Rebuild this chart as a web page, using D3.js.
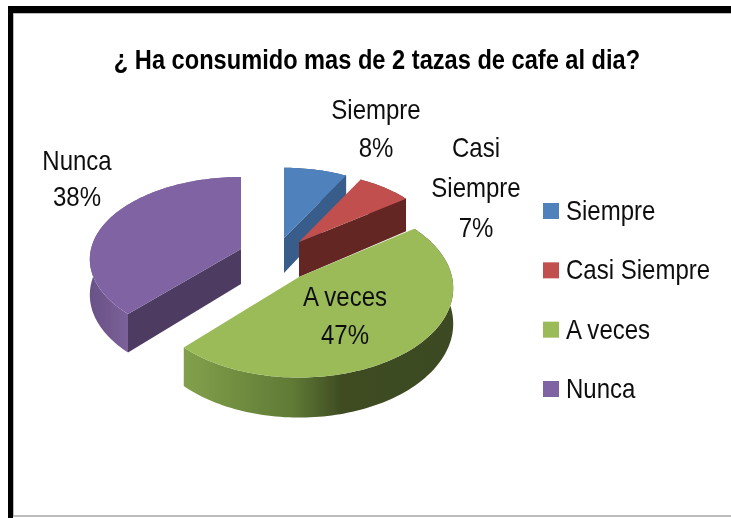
<!DOCTYPE html>
<html>
<head>
<meta charset="utf-8">
<script src="https://cdn.jsdelivr.net/npm/d3@7"></script>
<style>
html, body { margin: 0; padding: 0; background: #fff; }
svg { display: block; }
text { font-family: "Liberation Sans", sans-serif; fill: #111; }
</style>
</head>
<body>
<div id="contenedor"></div>
<script>
// datos
const titulo = "¿ Ha consumido mas de 2 tazas de cafe al dia?"
const categorias = ["Siempre", "Casi Siempre", "A veces", "Nunca"]
const valores = [8, 7, 47, 38]

const colores = ["#4f81bd", "#c0504d", "#9bbb59", "#8064a2"]
const coloresPared = ["#385d8a", "#632523", "#46562a", "#4d3b62"]

const ancho = 731
const alto = 518

// centro de cada porcion (cada una esta separada del resto) y sus radios
const centros = [
  { x: 284, y: 238, rx: 143, ry: 79 },
  { x: 299, y: 242, rx: 142, ry: 79 },
  { x: 299, y: 277, rx: 153, ry: 88 },
  { x: 241, y: 249, rx: 150, ry: 81 }
]
const perspectiva = 0.125
const grosor = 35
const estrechar = 0.89  // la fuente del original es mas estrecha

// etiquetas sobre el grafico: una linea por fila
const etiquetas = [
  { x: 376, y: [110, 148], t: ["Siempre", "8%"] },
  { x: 476, y: [148, 188, 228], t: ["Casi", "Siempre", "7%"] },
  { x: 345, y: [297, 335], t: ["A veces", "47%"] },
  { x: 77, y: [161, 197], t: ["Nunca", "38%"] }
]

const svg = d3.select("#contenedor").append("svg")
  .attr("width", ancho)
  .attr("height", alto)

const defs = svg.append("defs")

defs.append("filter").attr("id", "suave")
  .attr("filterUnits", "userSpaceOnUse")
  .attr("x", 0).attr("y", 0).attr("width", ancho).attr("height", alto)
  .append("feGaussianBlur").attr("stdDeviation", 0.45)

function gradiente(id, x1, x2, paradas) {
  const g = defs.append("linearGradient")
    .attr("id", id)
    .attr("gradientUnits", "userSpaceOnUse")
    .attr("x1", x1).attr("x2", x2).attr("y1", 0).attr("y2", 0)
  paradas.forEach(p => g.append("stop").attr("offset", p[0]).attr("stop-color", p[1]))
}
gradiente("bordeVerde", 185, 455, [[0, "#82a04b"], [0.4, "#5f7a35"], [0.58, "#3f4c22"], [1, "#3d4a20"]])
gradiente("bordePurpura", 91, 130, [[0, "#6a5288"], [0.6, "#745b91"], [1, "#7d629c"]])

const raiz = svg.append("g").attr("filter", "url(#suave)")

// marco
raiz.append("rect").attr("x", 13).attr("y", 13).attr("width", ancho).attr("height", 503)
  .attr("fill", "#fff").attr("stroke", "#a6a6a6").attr("stroke-width", 1.5)
raiz.append("rect").attr("x", 8).attr("y", 6).attr("width", 5).attr("height", alto).attr("fill", "#000")
raiz.append("rect").attr("x", 8).attr("y", 6).attr("width", ancho).attr("height", 7).attr("fill", "#000")

raiz.append("text")
  .attr("transform", "translate(377,69) scale(0.875,1)")
  .attr("text-anchor", "middle")
  .attr("font-size", 27).attr("font-weight", "bold")
  .style("fill", "#000")
  .text(titulo)

const pie = d3.pie().sort(null).value(d => d)
const arcos = pie(valores)

// pasa un punto del plano de la tarta a pantalla
function proyectar(c, r, a, z) {
  const u = r * Math.sin(a)
  const v = -r * Math.cos(a)
  const s = 1 / (1 - perspectiva * v)
  return [c.x + c.rx * u * s, c.y + c.ry * v * s + z * grosor * s]
}

function puntosArco(c, d, z) {
  const n = Math.ceil((d.endAngle - d.startAngle) * 40)
  return d3.range(n + 1).map(i =>
    proyectar(c, 1, d.startAngle + (d.endAngle - d.startAngle) * i / n, z))
}

const linea = d3.line()
const relleno = ["", "", "url(#bordeVerde)", "url(#bordePurpura)"]

// orden de pintado: de atras hacia delante
const orden = [0, 1, 3, 2]
orden.forEach(i => {
  const c = centros[i]
  const d = arcos[i]
  const g = raiz.append("g")

  const arriba = puntosArco(c, d, 0)
  const abajo = puntosArco(c, d, 1)
  g.append("path")
    .attr("d", linea(arriba.concat(abajo.reverse())) + "Z")
    .attr("fill", relleno[i] || coloresPared[i])

  // solo las paredes de corte que miran hacia delante
  const a0 = proyectar(c, 0, 0, 0)
  const a1 = proyectar(c, 0, 0, 1)
  const paredes = []
  if (Math.sin(d.startAngle) < 0) paredes.push(d.startAngle)
  if (Math.sin(d.endAngle) > 0) paredes.push(d.endAngle)
  paredes.forEach(a => {
    g.append("path")
      .attr("d", linea([a0, proyectar(c, 1, a, 0), proyectar(c, 1, a, 1), a1]) + "Z")
      .attr("fill", coloresPared[i])
  })

  g.append("path")
    .attr("d", linea([a0].concat(puntosArco(c, d, 0))) + "Z")
    .attr("fill", colores[i])
})

etiquetas.forEach(e => {
  e.t.forEach((t, j) => {
    raiz.append("text")
      .attr("transform", "translate(" + e.x + "," + (e.y[j] + 9) + ") scale(" + estrechar + ",1)")
      .attr("text-anchor", "middle")
      .attr("font-size", 27)
      .text(t)
  })
})

// leyenda
const yLeyenda = d3.scalePoint().domain(categorias).range([211, 389])
const leyenda = raiz.selectAll(".leyenda")
  .data(categorias)
  .enter()
  .append("g")
  .attr("class", "leyenda")
  .attr("transform", d => "translate(543," + yLeyenda(d) + ")")

leyenda.append("rect")
  .attr("y", -8).attr("width", 16).attr("height", 16)
  .attr("fill", (d, i) => colores[i])

leyenda.append("text")
  .attr("transform", "translate(23,9) scale(" + estrechar + ",1)")
  .attr("font-size", 27)
  .text(d => d)
</script>
</body>
</html>
